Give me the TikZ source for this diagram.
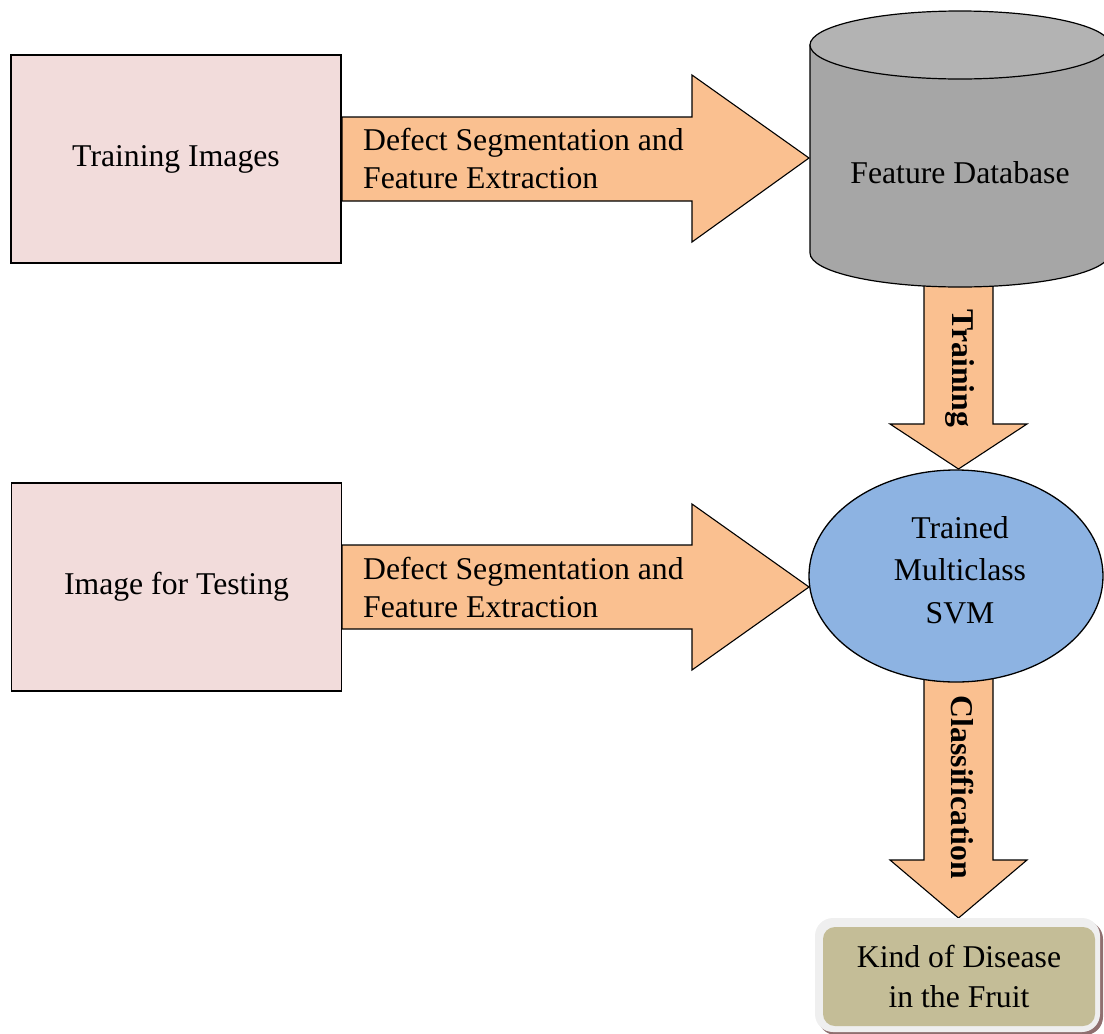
\documentclass[tikz,border=0pt]{standalone}
\usepackage{fontspec}
\setmainfont{Liberation Serif}
\usetikzlibrary{shapes.geometric}
\definecolor{pinkbox}{HTML}{F2DCDB}
\definecolor{arrowfill}{HTML}{FAC090}
\definecolor{cylbody}{HTML}{A6A6A6}
\definecolor{cyltop}{HTML}{B3B3B3}
\definecolor{svmblue}{HTML}{8DB3E2}
\definecolor{resultfill}{HTML}{C4BD97}
\definecolor{resultrim}{HTML}{EFEFEF}
\definecolor{resultshadow}{HTML}{8F6F6F}
\begin{document}
\begin{tikzpicture}[x=1pt,y=-1pt,
  bigfont/.style={font=\fontsize{31.7}{38}\selectfont},
  inbox/.style={draw=black, line width=1.8pt, fill=pinkbox, minimum width=330pt, minimum height=208pt, inner sep=0pt, bigfont},
  blockarrow/.style={draw=black, line width=1.1pt, fill=arrowfill, line join=miter},
  arrowtext/.style={anchor=west, inner sep=0pt, align=left, bigfont},
  vtext/.style={anchor=base, inner sep=0pt, rotate=-90, font=\fontsize{31.7}{38}\selectfont\bfseries},
  cylline/.style={draw=black, line width=1.2pt},
  svmshape/.style={ellipse, draw=black, line width=1.3pt, fill=svmblue, minimum width=294pt, minimum height=212pt, inner sep=0pt},
  plain/.style={inner sep=0pt, align=center},
  result/.style={rounded corners=12pt, fill=resultfill, minimum width=272pt, minimum height=99pt, inner sep=0pt, align=center, font=\fontsize{31.7}{40}\selectfont}
]
\useasboundingbox (0,0) rectangle (1104,1034);

% block arrows (drawn first, shapes go over their ends)
\filldraw[blockarrow] (342,117) -- (692,117) -- (692,75) -- (809,158) -- (692,242) -- (692,201) -- (342,201) -- cycle;
\filldraw[blockarrow] (342,545) -- (692,545) -- (692,504) -- (809,587) -- (692,670) -- (692,629) -- (342,629) -- cycle;
\filldraw[blockarrow] (924,270) -- (993,270) -- (993,424) -- (1027,424) -- (958.5,469) -- (890,424) -- (924,424) -- cycle;
\filldraw[blockarrow] (924,670) -- (993,670) -- (993,860) -- (1027,860) -- (958.5,918) -- (890,860) -- (924,860) -- cycle;

% left boxes
\node[inbox] (train) at (176,159) {Training Images};
\node[inbox] (test) at (176.5,587) {Image for Testing};

% arrow labels
\node[arrowtext] (seg1) at (363,158) {Defect Segmentation and\\Feature Extraction};
\node[arrowtext] (seg2) at (363,587.5) {Defect Segmentation and\\Feature Extraction};

% feature database cylinder
\filldraw[cylline, fill=cylbody] (810,45) -- (810,253) arc[start angle=180, end angle=360, x radius=150pt, y radius=34pt] -- (1110,45) -- cycle;
\filldraw[cylline, fill=cyltop] (960,45) ellipse [x radius=150pt, y radius=34pt];
\node[plain, bigfont] (db) at (960,173) {Feature Database};

% trained SVM
\node[svmshape] (svm) at (956,576) {};
\node[plain, font=\fontsize{31.7}{42.5}\selectfont] (svmtext) at (960,570) {Trained\\Multiclass\\SVM};

% vertical arrow labels
\node[vtext] (trainlbl) at (952,368.5) {Training};
\node[vtext] (classlbl) at (951,787.5) {Classification};

% result box
\fill[resultshadow, rounded corners=18pt] (818,921) rectangle (1103,1035);
\fill[resultrim, rounded corners=18pt] (815,918) rectangle (1100,1032);
\node[result] (kind) at (959,976.5) {Kind of Disease\\in the Fruit};
\end{tikzpicture}
\end{document}
